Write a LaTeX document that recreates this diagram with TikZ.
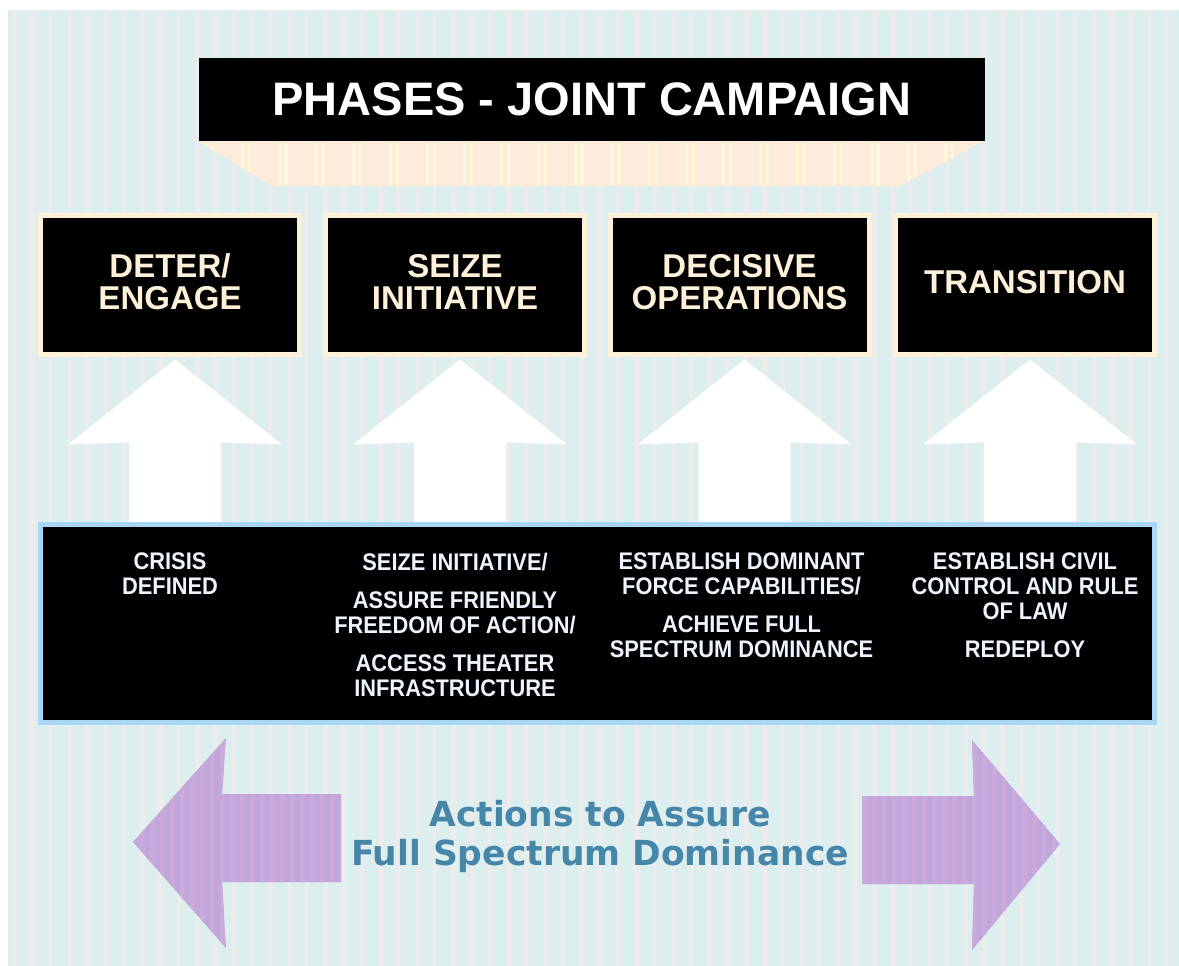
\documentclass[tikz,border=0pt]{standalone}
\usepackage{fontspec}
\setmainfont{Liberation Sans}
\newfontfamily\dvsans{DejaVu Sans}
\usetikzlibrary{calc}
\definecolor{bgc}{RGB}{220,238,238}
\definecolor{bgs}{RGB}{236,236,236}
\definecolor{peach}{RGB}{253,236,220}
\definecolor{peachs}{RGB}{255,248,215}
\definecolor{cream}{RGB}{255,240,218}
\definecolor{bandblue}{RGB}{170,214,245}
\definecolor{bandtxt}{RGB}{238,244,255}
\definecolor{lilac}{RGB}{205,168,219}
\definecolor{lilacb}{RGB}{188,168,221}
\definecolor{steel}{RGB}{70,134,168}
\newcommand\nb[1]{\scalebox{0.91}[1]{#1}}
\tikzset{
  titlebox/.style={fill=black, draw=none, minimum width=786pt, minimum height=83pt,
    text=white, font=\fontsize{47}{47}\selectfont\bfseries, inner sep=0pt},
  phasebox/.style={fill=black, draw=cream, line width=5pt, minimum width=259pt,
    minimum height=139pt, align=center, text=cream,
    font=\fontsize{33}{32}\selectfont\bfseries, inner sep=0pt},
  bandbox/.style={fill=black, draw=bandblue, line width=5pt, minimum width=1114pt,
    minimum height=198pt, inner sep=0pt},
  bandtext/.style={anchor=north, inner sep=0pt, align=center, text=bandtxt,
    font=\fontsize{24}{25}\selectfont\bfseries},
  captiontext/.style={anchor=north, inner sep=0pt, align=center, text=steel,
    font=\dvsans\fontsize{34.5}{39}\selectfont\bfseries},
  uparrow/.style={fill=white, draw=none}
}
\begin{document}
\begin{tikzpicture}[x=1pt,y=-1pt]
\useasboundingbox (0,0) rectangle (1179,966);
% background
\fill[white] (0,0) rectangle (1179,966);
\fill[bgc] (8,10) rectangle (1179,966);
\foreach \i in {0,...,63} { \fill[bgs] ({12+18.3*\i},10) rectangle ++(4.5,956); }

% title trapezoid
\begin{scope}
  \clip (197,141) -- (983,141) -- (900,186) -- (272,186) -- cycle;
  \fill[peach] (190,135) rectangle (990,190);
  \foreach \i in {-3,...,20} {
    \fill[peachs] ({278+37*\i},143) rectangle ++(3,42);
    \fill[peachs] ({285+37*\i},143) rectangle ++(3,42);
  }
\end{scope}

% title
\node[titlebox] (title) at (592,99.5) {PHASES - JOINT CAMPAIGN};

% phase boxes
\node[phasebox] (p1) at (170,285) {DETER/\\ENGAGE\\[-26pt]};
\node[phasebox] (p2) at (455,285) {SEIZE\\INITIATIVE\\[-26pt]};
\node[phasebox] (p3) at (739.5,285) {DECISIVE\\OPERATIONS\\[-26pt]};
\node[phasebox] (p4) at (1025,285) {TRANSITION\\[-26pt]};

% white up arrows
\foreach \p in {p1,p2,p3,p4} {
  \fill[uparrow] ($(\p.south)+(5,2.5)$) -- ++(107,85) -- ++(-61,-2) -- ++(0,84)
     -- ++(-92,0) -- ++(0,-84) -- ++(-61,2) -- cycle;
}

% band
\node[bandbox] (band) at (597.5,623.5) {};
\node[bandtext] (t1) at (170,553) {\nb{CRISIS}\\\nb{DEFINED}};
\node[bandtext] (t2) at (455,553) {\nb{SEIZE INITIATIVE/}\\[13pt]\nb{ASSURE FRIENDLY}\\\nb{FREEDOM OF ACTION/}\\[13pt]\nb{ACCESS THEATER}\\\nb{INFRASTRUCTURE}};
\node[bandtext] (t3) at (741.5,553) {\nb{ESTABLISH DOMINANT}\\\nb{FORCE CAPABILITIES/}\\[13pt]\nb{ACHIEVE FULL}\\\nb{SPECTRUM DOMINANCE}};
\node[bandtext] (t4) at (1025,553) {\nb{ESTABLISH CIVIL}\\\nb{CONTROL AND RULE}\\\nb{OF LAW}\\[13pt]\nb{REDEPLOY}};

% purple arrows
\begin{scope}
  \clip (133,842) -- (226,738) -- (222,794) -- (341,794) -- (341,882) -- (222,882) -- (226,948) -- cycle;
  \fill[lilacb] (120,730) rectangle (350,960);
  \foreach \i in {0,...,23} { \fill[lilac] ({120+10*\i},730) rectangle ++(5,230); }
\end{scope}
\begin{scope}
  \clip (862,796) -- (974,796) -- (972,740) -- (1060,844) -- (972,950) -- (974,884) -- (862,884) -- cycle;
  \fill[lilacb] (850,730) rectangle (1070,960);
  \foreach \i in {0,...,22} { \fill[lilac] ({852+10*\i},730) rectangle ++(5,230); }
\end{scope}

\node[captiontext] (cap) at (600,800) {Actions to Assure\\Full Spectrum Dominance};
\end{tikzpicture}
\end{document}
